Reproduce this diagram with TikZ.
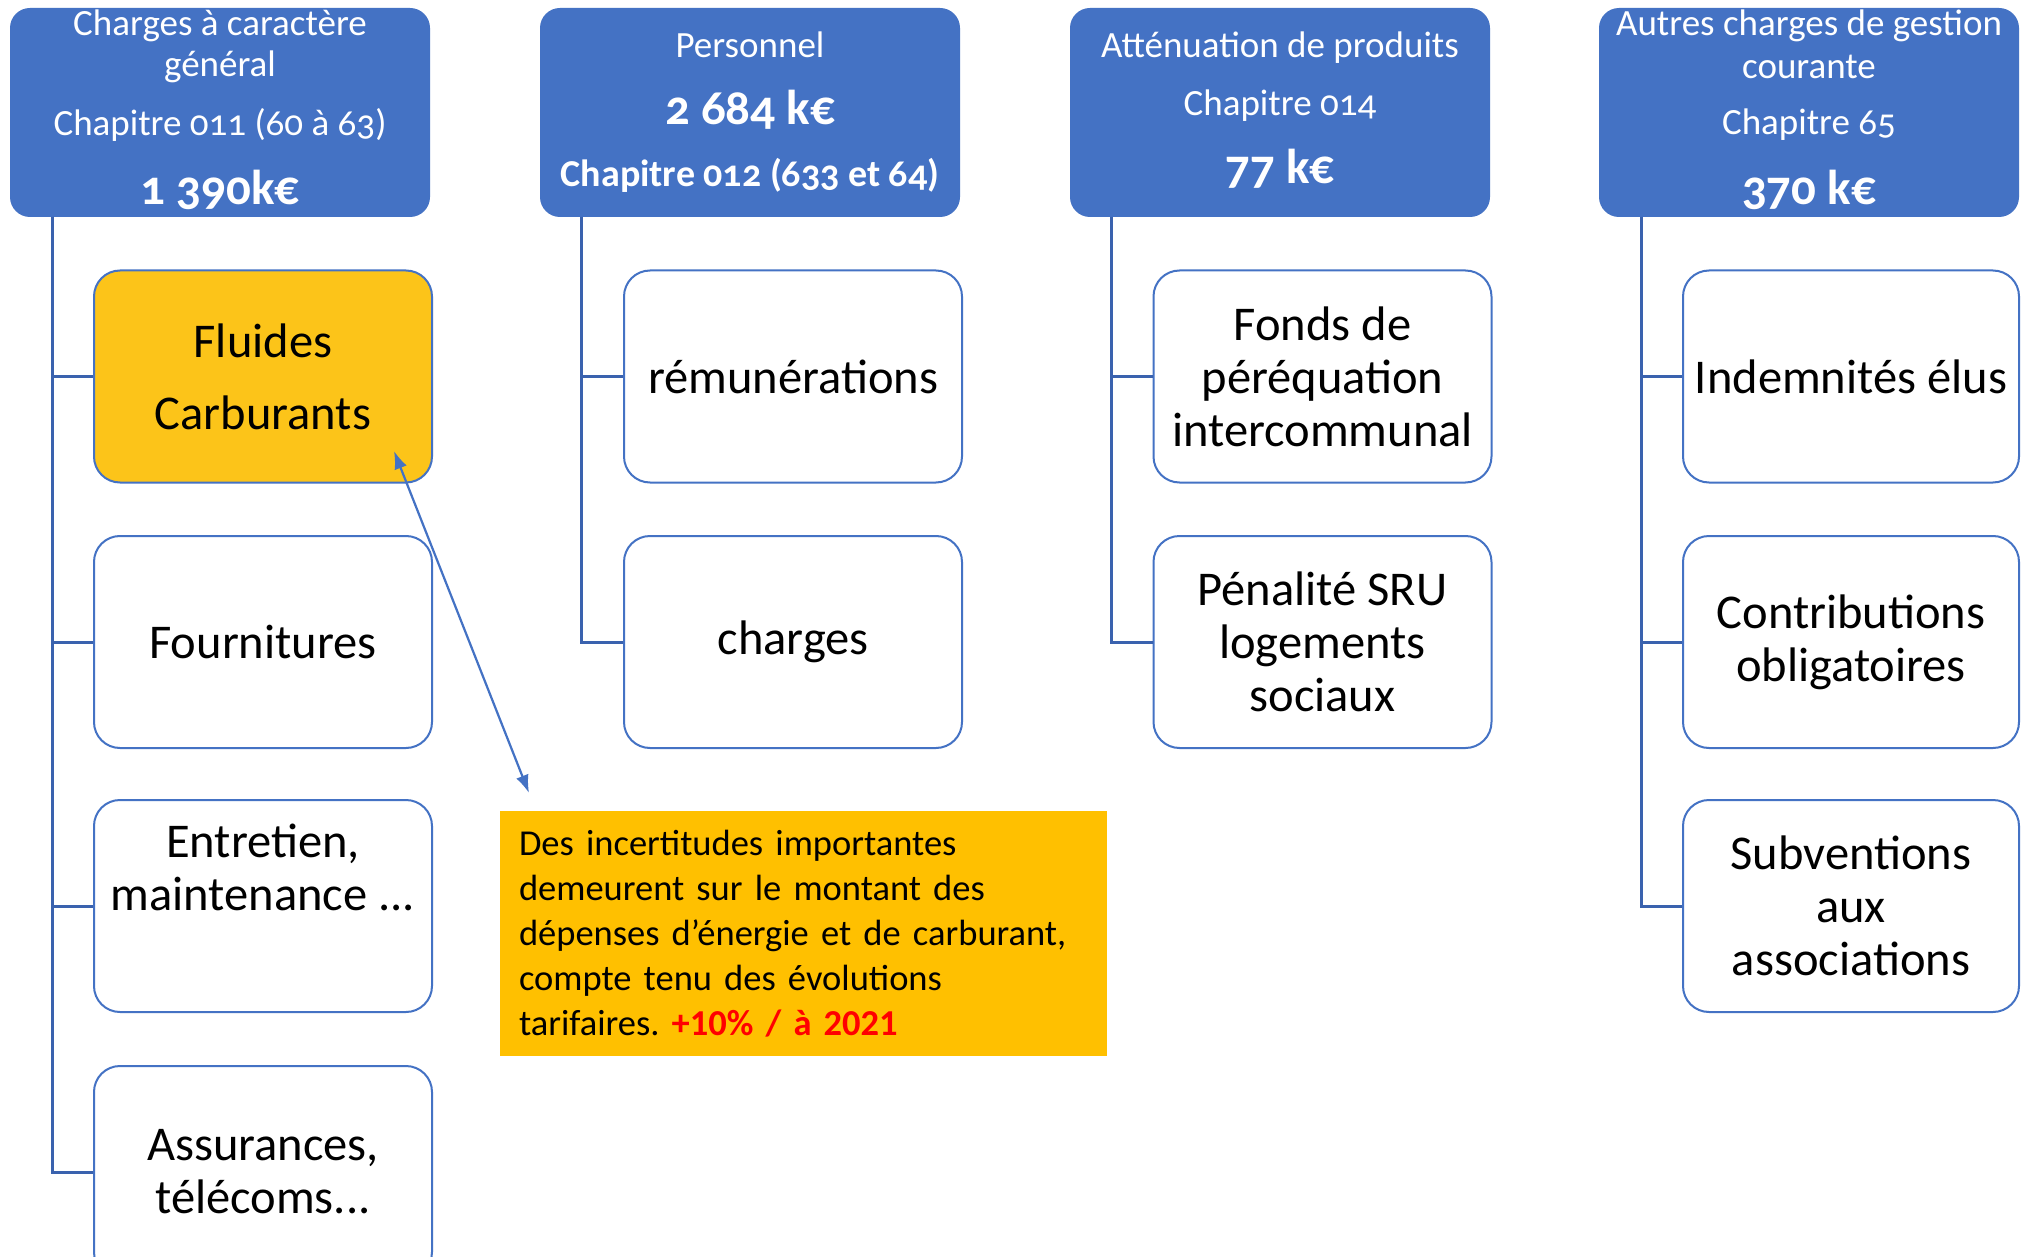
\documentclass[tikz,border=0pt]{standalone}
\usepackage{fontspec}
\setmainfont{Carlito}
\newfontfamily\hdfont[Numbers=OldStyle]{Carlito}
\usetikzlibrary{arrows.meta}
\definecolor{hblue}{HTML}{4472C4}
\definecolor{lblue}{HTML}{3A62AE}
\definecolor{fluid}{HTML}{FCC419}
\definecolor{notec}{HTML}{FFC000}
\frenchspacing
\begin{document}
\begin{tikzpicture}[x=1pt,y=-1pt,
  header/.style={fill=hblue, draw=none, rounded corners=20pt, minimum width=420pt, minimum height=209pt, inner sep=0pt},
  child/.style={draw=hblue, line width=2pt, fill=white, rounded corners=26pt, minimum width=338pt, minimum height=212pt, inner sep=0pt, align=center, font=\fontsize{48.5}{53}\selectfont},
  htxt/.style={text=white, inner sep=0pt, font=\hdfont\fontsize{37}{40}\selectfont},
  hval/.style={text=white, inner sep=0pt, font=\hdfont\bfseries\fontsize{49}{52}\selectfont},
  conn/.style={draw=lblue, line width=3pt},
  note/.style={fill=notec, draw=none, minimum width=607pt, minimum height=245pt, inner xsep=19pt, inner ysep=0pt, text width=569pt, align=left, font=\fontsize{36.5}{45}\selectfont},
  callout/.style={draw=hblue, line width=2.2pt, >={Latex[length=18pt,width=13pt]}, <->}
  ]
\clip (0,0) rectangle (2021,1257);
\fill[white] (0,0) rectangle (2021,1257);

% headers
\node[header] (h1) at (220,112.5) {};
\node[header] (h2) at (750,112.5) {};
\node[header] (h3) at (1280,112.5) {};
\node[header] (h4) at (1809,112.5) {};

\node[htxt] (h1a) at (220,26) {Charges à caractère};
\node[htxt] (h1b) at (220,67) {général};
\node[htxt] (h1c) at (220,125) {Chapitre 011 (60 à 63)};
\node[hval] (h1d) at (220,190) {1 390k€};

\node[htxt] (h2a) at (750,45) {Personnel};
\node[hval] (h2b) at (750,110) {2 684 k€};
\node[htxt, font=\hdfont\bfseries\fontsize{38}{40}\selectfont] (h2c) at (750,175) {Chapitre 012 (633 et 64)};

\node[htxt] (h3a) at (1280,48) {Atténuation de produits};
\node[htxt] (h3b) at (1280,106) {Chapitre 014};
\node[hval] (h3c) at (1280,169) {77 k€};

\node[htxt] (h4a) at (1809,26) {Autres charges de gestion};
\node[htxt] (h4b) at (1809,67) {courante};
\node[htxt] (h4c) at (1809,125) {Chapitre 65};
\node[hval] (h4d) at (1809,190) {370 k€};

% connector roots
\coordinate (r1) at (52,217);
\coordinate (r2) at (581,217);
\coordinate (r3) at (1111,217);
\coordinate (r4) at (1641,217);

% children column 1
\node[child, fill=fluid] (c11) at (263,376.5) {Fluides\\[19pt]Carburants};
\node[child] (c12) at (263,642) {Fournitures};
\node[child] (c13) at (263,906) {Entretien,\\maintenance ...\\[24pt]~};
\node[child] (c14) at (263,1172) {Assurances,\\télécoms...};

% column 2
\node[child] (c21) at (793,376.5) {rémunérations};
\node[child] (c22) at (793,642) {charges};

% column 3
\node[child] (c31) at (1322.5,376.5) {Fonds de\\péréquation\\intercommunal};
\node[child] (c32) at (1322.5,642) {Pénalité SRU\\logements\\sociaux};

% column 4
\node[child, minimum width=336pt] (c41) at (1851,376.5) {Indemnités élus};
\node[child, minimum width=336pt] (c42) at (1851,642) {Contributions\\obligatoires};
\node[child, minimum width=336pt] (c43) at (1851,906) {Subventions\\aux\\associations};

% connectors
\draw[conn] (r1) |- (c11.west);
\draw[conn] (r1) |- (c12.west);
\draw[conn] (r1) |- (c13.west);
\draw[conn] (r1) |- (c14.west);
\draw[conn] (r2) |- (c21.west);
\draw[conn] (r2) |- (c22.west);
\draw[conn] (r3) |- (c31.west);
\draw[conn] (r3) |- (c32.west);
\draw[conn] (r4) |- (c41.west);
\draw[conn] (r4) |- (c42.west);
\draw[conn] (r4) |- (c43.west);

% note
\node[note] (nt) at (803.5,933.5) {Des incertitudes importantes\\
demeurent sur le montant des\\
dépenses d’énergie et de carburant,\\
compte tenu des évolutions\\
tarifaires. {\color{red}\bfseries +10\% / à 2021}};

\coordinate (aA) at (394,451);
\coordinate (aB) at (529,793);
\draw[callout] (aA) -- (aB);
\end{tikzpicture}
\end{document}
